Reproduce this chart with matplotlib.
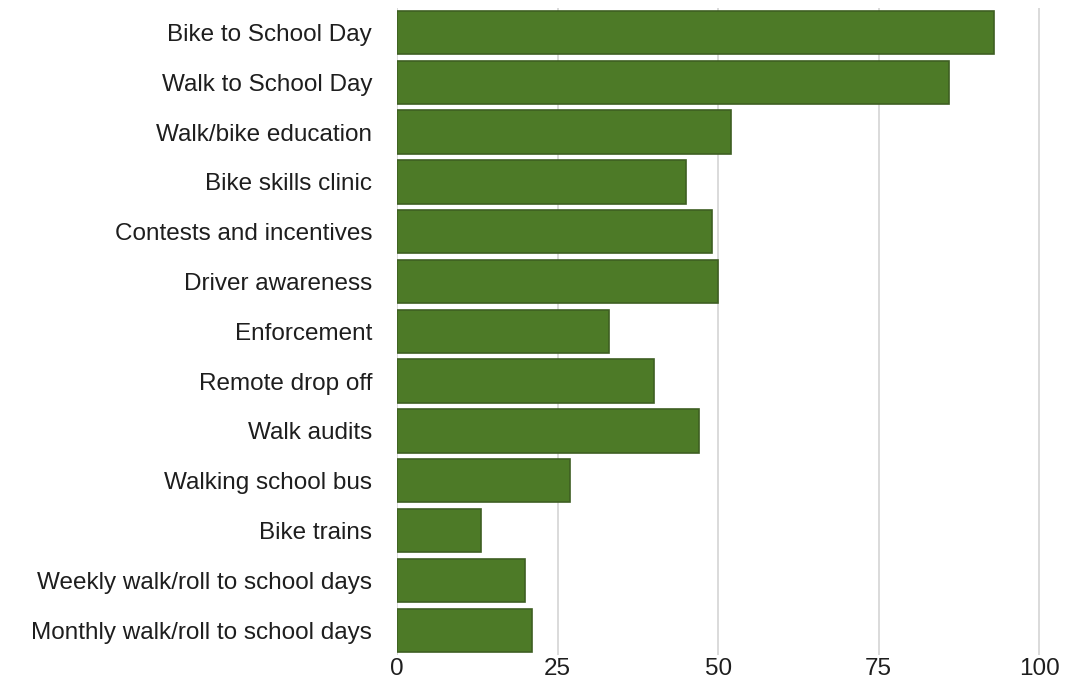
import matplotlib
matplotlib.use("Agg")
import matplotlib.pyplot as plt

plt.rcParams['font.family'] = ['Liberation Sans', 'DejaVu Sans']

categories = ["Bike to School Day", "Walk to School Day", "Walk/bike education",
              "Bike skills clinic", "Contests and incentives", "Driver awareness",
              "Enforcement", "Remote drop off", "Walk audits", "Walking school bus",
              "Bike trains", "Weekly walk/roll to school days",
              "Monthly walk/roll to school days"]
values = [93, 86, 52, 45, 49, 50, 33, 40, 47, 27, 13, 20, 21]
ticks = [0, 25, 50, 75, 100]

fig = plt.figure(figsize=(10.65, 6.91), dpi=100)
ax = fig.add_axes([0.3728, 0.052, 0.6047, 0.937])

pos = list(range(len(categories)))
ax.barh(pos, values, height=0.87, color='#4d7a27', edgecolor='#3e5f22',
        linewidth=1.2, zorder=3)
ax.set_yticks(pos)
ax.set_yticklabels(categories)
ax.set_ylim(len(categories) - 0.5, -0.5)
ax.set_xlim(0, 100.3)
ax.set_xticks(ticks)
ax.set_xticklabels([str(t) for t in ticks])
ax.grid(axis='x', color='#d4d4d4', linewidth=1.2, zorder=0)
for s in ax.spines.values():
    s.set_visible(False)
ax.tick_params(axis='both', length=0, labelsize=17.5, colors='#1e1e1e')
ax.tick_params(axis='y', pad=18)
ax.tick_params(axis='x', pad=2)

fig.savefig("out.png", dpi=100)
